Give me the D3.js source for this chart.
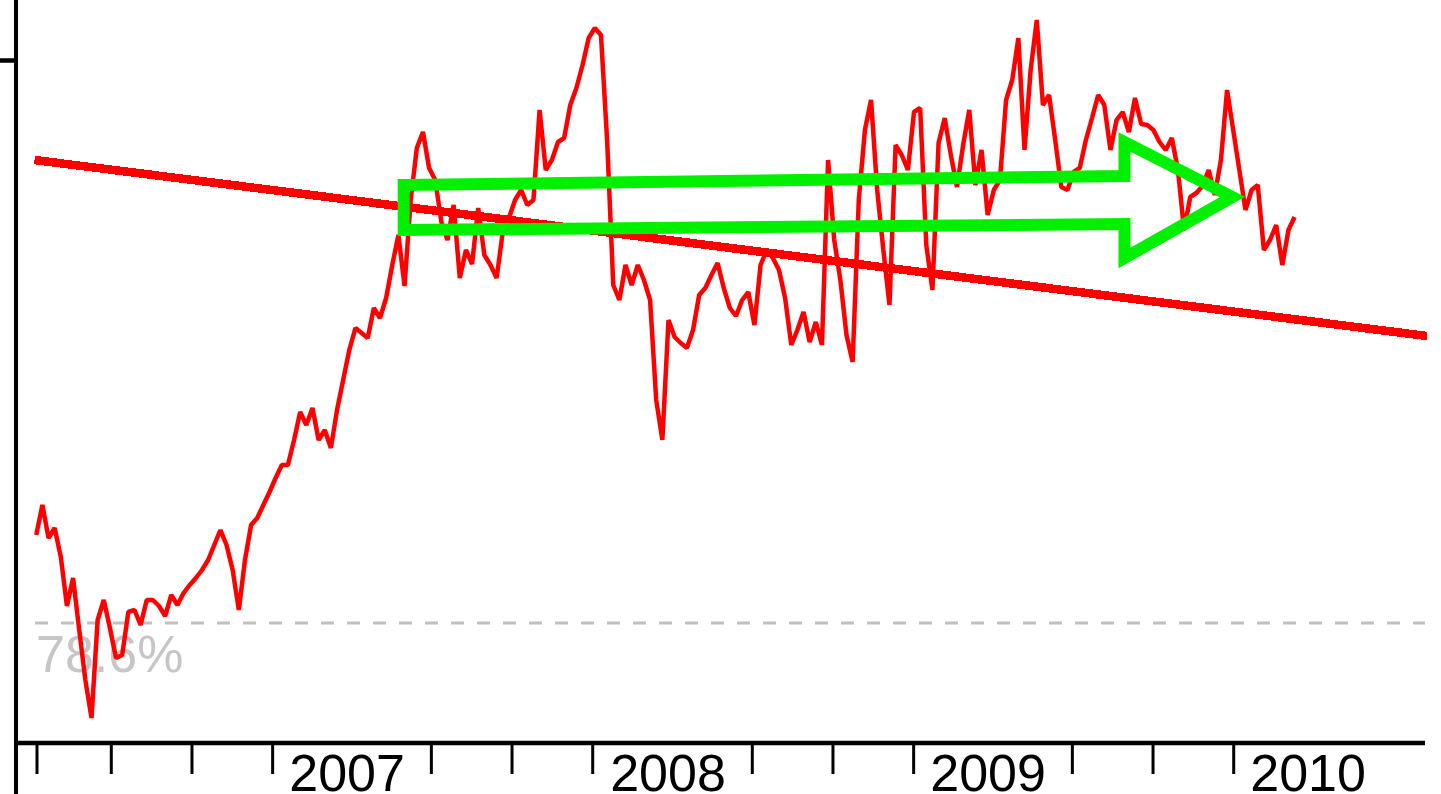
<!DOCTYPE html>
<html>
<head>
<meta charset="utf-8">
<script src="https://cdn.jsdelivr.net/npm/d3@7"></script>
<style>
  body { margin: 0; background: #fff; }
  svg { display: block; font-family: "Liberation Sans", Arial, sans-serif; }
</style>
</head>
<body>
<div id="chart"></div>
<script>
// weekly closes, first week starts 2006-04-07
const firstWeek = new Date(2006, 3, 7);
const closes = [
  20.5, 23.5, 20.2, 21.2, 18.3, 13.4, 16.2, 11.0, 6.0, 2.2,
  12.0, 14.0, 11.2, 8.2, 8.5, 12.8, 13.0, 11.5, 14.0, 14.0,
  13.4, 12.4, 14.5, 13.5, 14.7, 15.5, 16.2, 17.0, 18.0, 19.5,
  21.0, 19.5, 17.0, 13.0, 18.0, 21.5, 22.2, 23.5, 24.8, 26.2,
  27.5, 27.5, 30.0, 32.8, 31.5, 33.2, 30.0, 31.0, 29.2, 33.0,
  36.0, 39.0, 41.2, 40.7, 40.2, 43.2, 42.2, 44.2, 47.5, 50.5,
  45.4, 54.0, 59.2, 60.8, 57.2, 56.0, 51.8, 50.0, 53.5, 46.2,
  49.0, 47.6, 53.2, 48.5, 47.5, 46.2, 50.8, 52.2, 54.0, 55.0,
  53.5, 54.0, 63.0, 57.0, 58.0, 59.8, 60.2, 63.5, 65.2, 67.5,
  70.2, 71.2, 70.5, 60.0, 45.5, 44.0, 47.5, 45.5, 47.5, 46.0,
  44.0, 34.0, 30.0, 42.0, 40.3, 39.7, 39.2, 41.0, 44.5, 45.2,
  46.5, 47.7, 45.2, 43.2, 42.4, 44.0, 44.8, 41.5, 47.5, 49.0,
  48.2, 47.0, 44.2, 39.5, 41.0, 42.8, 39.8, 41.8, 39.5, 58.0,
  50.0, 46.0, 40.5, 37.8, 54.0, 61.0, 64.0, 55.0, 49.0, 43.5,
  59.5, 58.5, 57.0, 62.8, 63.2, 49.5, 45.0, 59.7, 62.2, 58.5,
  55.3, 59.5, 63.0, 55.5, 59.0, 52.5, 55.0, 56.0, 64.0, 66.0,
  70.2, 59.0, 67.0, 72.0, 63.5, 64.5, 60.0, 55.3, 55.0, 56.8,
  57.2, 60.0, 62.2, 64.5, 63.5, 59.0, 62.0, 62.8, 60.8, 64.2,
  61.6, 61.5, 61.0, 59.8, 59.0, 60.2, 57.0, 51.0, 54.3, 54.7,
  55.4, 57.0, 54.5, 58.0, 65.0, 61.0, 57.0, 53.0, 55.0, 55.5,
  49.0, 50.0, 51.5, 47.5, 51.0, 52.3
];

// long falling trendline
const trendDates = [new Date(2006, 3, 5), new Date(2010, 7, 10)];
const trendValues = [58.0, 40.4];

// fibonacci retracement level
const fibLevel = 11.7;
const fibLabel = "78.6%";

// year labels
const years = [2007, 2008, 2009, 2010];

// hollow arrow annotation (date, value)
const arrowDates = [
  new Date(2007, 4, 31), new Date(2009, 7, 30), new Date(2009, 7, 30),
  new Date(2009, 11, 31), new Date(2009, 7, 30), new Date(2009, 7, 30),
  new Date(2007, 4, 31)
];
const arrowValues = [55.5, 56.4, 59.8, 54.3, 48.2, 51.6, 51.0];

const width = 1441, height = 794;

const svg = d3.select("#chart").append("svg")
  .attr("width", width)
  .attr("height", height);

svg.append("rect").attr("width", width).attr("height", height).attr("fill", "#fff");

const x = d3.scaleTime()
  .domain([new Date(2006, 3, 1), new Date(2010, 7, 10)])
  .range([31, 1427]);

const y = d3.scaleLinear()
  .domain([0, 74])
  .range([740, 0]);

const series = closes.map((v, i) => ({ date: d3.timeDay.offset(firstWeek, i * 7), value: v }));

// x axis: quarter ticks, april ones sit under the year labels
const quarterTicks = d3.timeMonth.every(3).range(new Date(2006, 3, 1), new Date(2010, 2, 1))
  .filter(d => !(d.getMonth() === 3 && d.getFullYear() >= 2007));

const xAxis = svg.append("g")
  .attr("transform", "translate(0,743)")
  .call(d3.axisBottom(x).tickValues(quarterTicks).tickSize(31).tickSizeOuter(0).tickFormat(""));
xAxis.select(".domain").attr("d", "M16,0H1425").attr("stroke", "#000").attr("stroke-width", 4.5);
xAxis.selectAll(".tick line").attr("stroke", "#000").attr("stroke-width", 3).attr("y1", 2);
xAxis.selectAll(".tick").filter((d, i) => i === 0).attr("transform", d => `translate(${x(d) + 6},0)`);

// y axis, only one tick showing at the top
const yAxis = svg.append("g")
  .attr("transform", "translate(16,0)")
  .call(d3.axisLeft(y).tickValues([68]).tickSize(16).tickSizeOuter(0).tickFormat(""));
yAxis.select(".domain").attr("d", "M0,0V794").attr("stroke", "#000").attr("stroke-width", 4);
yAxis.selectAll(".tick line").attr("stroke", "#000").attr("stroke-width", 4.5);

svg.selectAll(".yearLabel")
  .data(years)
  .join("text")
  .attr("class", "yearLabel")
  .attr("x", d => x(new Date(d, 3, 1)) - 4)
  .attr("y", 791)
  .attr("text-anchor", "middle")
  .attr("font-size", 52)
  .attr("fill", "#000")
  .text(d => d);

// retracement line + label
svg.append("line")
  .attr("x1", 35).attr("x2", 1425)
  .attr("y1", y(fibLevel)).attr("y2", y(fibLevel))
  .attr("stroke", "#c0c0c0")
  .attr("stroke-width", 3)
  .attr("stroke-dasharray", "13,13");

svg.append("text")
  .attr("x", 36)
  .attr("y", y(fibLevel) + 49)
  .attr("font-size", 52)
  .attr("fill", "#c6c6c6")
  .text(fibLabel);

// trendline
svg.append("line")
  .attr("x1", x(trendDates[0])).attr("y1", y(trendValues[0]))
  .attr("x2", x(trendDates[1])).attr("y2", y(trendValues[1]))
  .attr("stroke", "#ff0000")
  .attr("stroke-width", 8.5)
  .attr("shape-rendering", "crispEdges");

// price
const line = d3.line()
  .x(d => x(d.date))
  .y(d => y(d.value));

svg.append("path")
  .datum(series)
  .attr("d", line)
  .attr("fill", "none")
  .attr("stroke", "#ff0000")
  .attr("stroke-width", 4.5)
  .attr("stroke-linejoin", "bevel");

// green arrow
const arrowPts = arrowDates.map((d, i) => [x(d), y(arrowValues[i])]);
svg.append("path")
  .attr("d", d3.line()(arrowPts) + "Z")
  .attr("fill", "none")
  .attr("stroke", "#00f000")
  .attr("stroke-width", 12)
  .attr("stroke-linejoin", "miter")
  .attr("stroke-miterlimit", 10);
</script>
</body>
</html>
